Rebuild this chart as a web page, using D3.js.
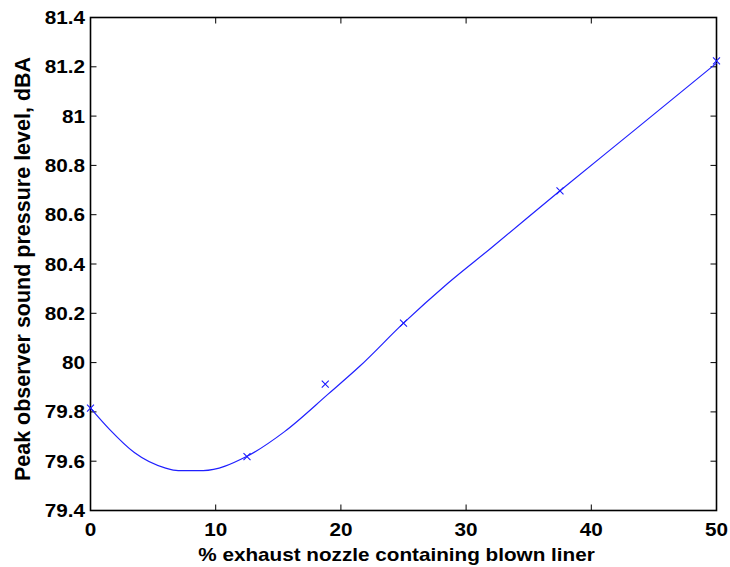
<!DOCTYPE html>
<html>
<head>
<meta charset="utf-8">
<script src="https://cdn.jsdelivr.net/npm/d3@7"></script>
<style>
  body { margin: 0; background: #fff; }
  text { font-family: "Liberation Sans", Arial, sans-serif; font-weight: bold; fill: #000; }
</style>
</head>
<body>
<svg id="chart" width="730" height="567"></svg>
<script>
// measured points (x markers)
var pointX = [0, 12.5, 18.75, 25, 37.5, 50];
var pointY = [79.815, 79.619, 79.913, 80.16, 80.697, 81.224];

// fitted curve
var curveX = [0, 1.5, 3.5, 6, 7, 9, 12.5, 15.5, 19, 21.5, 25, 28.5, 32, 37.5, 43.5, 50];
var curveY = [79.815, 79.73, 79.635, 79.572, 79.562, 79.562, 79.62, 79.72, 79.873, 79.985, 80.16, 80.32, 80.465, 80.697, 80.945, 81.215];

var xTicks = [0, 10, 20, 30, 40, 50];
var yTicks = [79.4, 79.6, 79.8, 80, 80.2, 80.4, 80.6, 80.8, 81, 81.2, 81.4];

var xLabel = "% exhaust nozzle containing blown liner";
var yLabel = "Peak observer sound pressure level, dBA";

var svg = d3.select("#chart");
var axL = 90.5, axT = 17.5, axR = 716.5, axB = 510.5;
var sx = 1.15; // picture is stretched horizontally

var x = d3.scaleLinear().domain([0, 50]).range([axL, axR]);
var y = d3.scaleLinear().domain([79.4, 81.4]).range([axB, axT]);

// ticks (inward, on all four sides)
var tl = 6;
svg.append("g").selectAll("line").data(xTicks).enter().append("line")
  .attr("x1", function(d) { return x(d); }).attr("x2", function(d) { return x(d); })
  .attr("y1", axB).attr("y2", axB - tl).attr("stroke", "#000").attr("stroke-width", 1);
svg.append("g").selectAll("line").data(xTicks).enter().append("line")
  .attr("x1", function(d) { return x(d); }).attr("x2", function(d) { return x(d); })
  .attr("y1", axT).attr("y2", axT + tl).attr("stroke", "#000").attr("stroke-width", 1);
svg.append("g").selectAll("line").data(yTicks).enter().append("line")
  .attr("x1", axL).attr("x2", axL + tl)
  .attr("y1", function(d) { return y(d); }).attr("y2", function(d) { return y(d); })
  .attr("stroke", "#000").attr("stroke-width", 1);
svg.append("g").selectAll("line").data(yTicks).enter().append("line")
  .attr("x1", axR).attr("x2", axR - tl)
  .attr("y1", function(d) { return y(d); }).attr("y2", function(d) { return y(d); })
  .attr("stroke", "#000").attr("stroke-width", 1);

// box
svg.append("rect").attr("x", axL).attr("y", axT)
  .attr("width", axR - axL).attr("height", axB - axT)
  .attr("fill", "none").attr("stroke", "#000").attr("stroke-width", 1.6);

// tick labels
svg.append("g").selectAll("text").data(xTicks).enter().append("text")
  .attr("transform", function(d) { return `translate(${x(d)},536) scale(${sx},1)`; })
  .attr("text-anchor", "middle").attr("font-size", 18)
  .text(function(d) { return d; });
svg.append("g").selectAll("text").data(yTicks).enter().append("text")
  .attr("transform", function(d) { return `translate(85,${y(d) + 6.5}) scale(${sx},1)`; })
  .attr("text-anchor", "end").attr("font-size", 18)
  .text(function(d) { return +d.toFixed(1); });

// axis labels
svg.append("text")
  .attr("transform", `translate(${(axL + axR) / 2 - 7},561) scale(${sx},1)`)
  .attr("text-anchor", "middle").attr("font-size", 18).text(xLabel);
svg.append("text")
  .attr("transform", `translate(30,${(axT + axB) / 2 + 5}) rotate(-90)`)
  .attr("text-anchor", "middle").attr("font-size", 21.5).text(yLabel);

// curve
var curveData = curveX.map(function(d, i) { return [d, curveY[i]]; });
var line = d3.line()
  .x(function(d) { return x(d[0]); })
  .y(function(d) { return y(d[1]); })
  .curve(d3.curveMonotoneX);
svg.append("path").datum(curveData)
  .attr("d", line).attr("fill", "none")
  .attr("stroke", "#2020ff").attr("stroke-width", 1.2);

// x markers
var ms = 3.5;
var pts = pointX.map(function(d, i) { return [d, pointY[i]]; });
svg.append("g").selectAll("path").data(pts).enter().append("path")
  .attr("d", function(d) {
    var cx = x(d[0]), cy = y(d[1]);
    return `M${cx - ms},${cy - ms}L${cx + ms},${cy + ms}M${cx - ms},${cy + ms}L${cx + ms},${cy - ms}`;
  })
  .attr("stroke", "#1a1aff").attr("stroke-width", 1.1).attr("fill", "none");
</script>
</body>
</html>
